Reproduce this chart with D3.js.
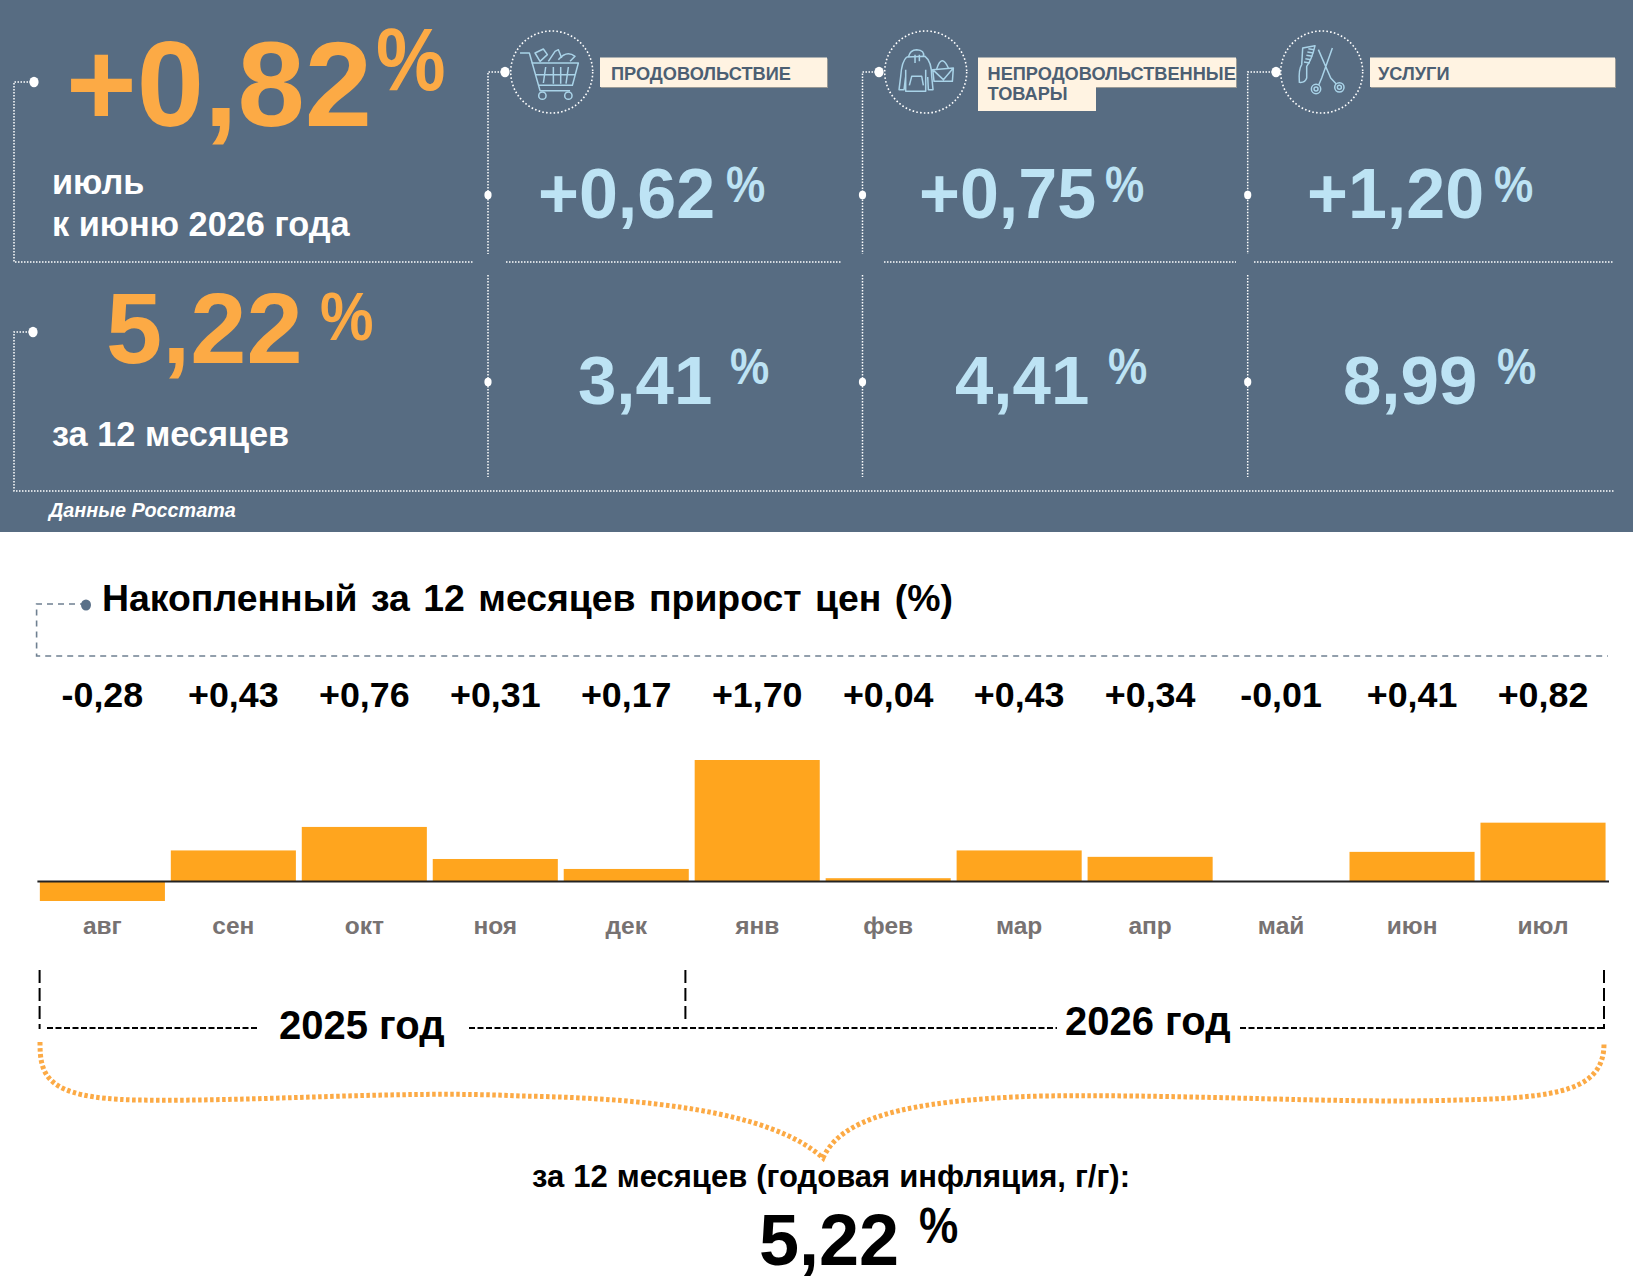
<!DOCTYPE html>
<html lang="ru">
<head>
<meta charset="UTF-8">
<title>Инфляция, июль 2026</title>
<script src="https://cdn.jsdelivr.net/npm/d3@7"></script>
<style>
	html, body { margin: 0; padding: 0; background: #fff; }
	svg { display: block; }
	text { font-family: "Liberation Sans", Arial, sans-serif; font-weight: bold; }
</style>
</head>
<body>
<div id="chart"></div>
<script>
	// monthly price growth, %
	const months = ["авг", "сен", "окт", "ноя", "дек", "янв", "фев", "мар", "апр", "май", "июн", "июл"];
	const monthly = [-0.28, 0.43, 0.76, 0.31, 0.17, 1.70, 0.04, 0.43, 0.34, -0.01, 0.41, 0.82];

	// panel figures
	const categories = ["ПРОДОВОЛЬСТВИЕ", "НЕПРОДОВОЛЬСТВЕННЫЕ", "УСЛУГИ"];
	const monthOnMonth = ["+0,62", "+0,75", "+1,20"];
	const yearOnYear = ["3,41", "4,41", "8,99"];
	const headlineMonth = "+0,82";
	const headlineYear = "5,22";

	const w = 1633, h = 1285;
	const orange = "#fcaa45", blue = "#bde3f4", panel = "#576c82", labelInk = "#4c5f73";

	const svg = d3.select("#chart").append("svg").attr("width", w).attr("height", h);
	svg.append("rect").attr("width", w).attr("height", h).attr("fill", "#fff");
	svg.append("rect").attr("width", w).attr("height", 532).attr("fill", panel);

	const fmt = d3.formatLocale({decimal: ",", thousands: " ", grouping: [3], currency: ["", ""], minus: "-"}).format("+.2f");

	function label(x, y, txt, size, fill, extra) {
		const t = svg.append("text").attr("x", x).attr("y", y).attr("font-size", size).attr("fill", fill).text(txt);
		if (extra) extra(t);
		return t;
	}
	// the percent signs in the original are taller and narrower than the font's
	function pct(x, y, size, fill) {
		svg.append("text").attr("transform", `translate(${x},${y}) scale(0.88,1)`)
			.attr("font-size", size * 1.14).attr("fill", fill).text("%");
	}
	function dots(d, width) {
		svg.append("path").attr("d", d).attr("fill", "none").attr("stroke", "#fff")
			.attr("stroke-width", width || 1.5).attr("stroke-dasharray", "1.5,1.5");
	}
	function dot(x, y, r, fill) {
		svg.append("ellipse").attr("cx", x).attr("cy", y).attr("rx", r).attr("ry", r + 0.6).attr("fill", fill || "#fff");
	}

	// ---- panel, left column
	dots("M34 82H14V262H473");
	dot(34, 82, 4.6);
	dots("M33 332H14V491H1615");
	dot(33, 332, 4.6);

	label(66, 126, headlineMonth, 121, orange);
	pct(376, 90, 78, orange);
	label(52, 194, "июль", 34.3, "#fff");
	label(52, 236, "к июню 2026 года", 34.3, "#fff");
	label(106, 363, headlineYear, 101, orange);
	pct(320, 340, 60, orange);
	label(52, 446, "за 12 месяцев", 34.3, "#fff");
	label(49, 517, "Данные Росстата", 19.8, "#fff", t => t.attr("font-style", "italic"));

	// ---- panel, three category columns
	const colX = [488, 862.5, 1247.7];
	const hookX = [505, 879, 1276];
	const ringX = [551.7, 925.7, 1321.7];
	const rowLeft = [506, 884, 1254];
	const rowRight = [842, 1236, 1614];
	const momX = [538, 919, 1307];
	const momPct = [726, 1105, 1494];
	const yoyX = [578, 955, 1343];
	const yoyPct = [730, 1108, 1497];

	colX.forEach((x, i) => {
		dots(`M${hookX[i]} 72H${x}V254`);
		dots(`M${x} 275V477`);
		dots(`M${rowLeft[i]} 262H${rowRight[i]}`);
		dot(x, 195, 3.6);
		dot(x, 382, 3.6);
		dot(hookX[i], 72, 4.6);

		svg.append("circle").attr("cx", ringX[i]).attr("cy", 72).attr("r", 41)
			.attr("fill", "none").attr("stroke", "#fff").attr("stroke-width", 1.6)
			.attr("stroke-dasharray", "1.6,2.2");

		label(momX[i], 218, monthOnMonth[i], 70, blue);
		pct(momPct[i], 202, 44, blue);
		label(yoyX[i], 403.5, yearOnYear[i], 69, blue);
		pct(yoyPct[i], 384, 44, blue);
	});

	// category captions
	function plate(x0, x1, y0, y1, shadow) {
		if (shadow) svg.append("rect").attr("x", x0 + 1).attr("y", y0 + 1).attr("width", x1 - x0).attr("height", y1 - y0).attr("fill", "#9a9a96");
		svg.append("rect").attr("x", x0).attr("y", y0).attr("width", x1 - x0).attr("height", y1 - y0).attr("fill", "#fff3e2");
	}
	plate(600, 827, 57.5, 87, true);
	plate(978, 1236, 57.5, 87, true);
	plate(978, 1096, 87, 111, false);
	plate(1370, 1615, 57.5, 87, true);
	label(611, 80, categories[0], 18.2, labelInk);
	label(987.5, 80, categories[1], 18.2, labelInk);
	label(987.5, 100, "ТОВАРЫ", 18.2, labelInk);
	label(1378, 80, categories[2], 18.2, labelInk);

	// icons, drawn in 3x coordinates around the ring centre
	function icon(cx, ox, oy, paths, rings) {
		const g = svg.append("g").attr("transform", `translate(${cx},72) scale(${1 / 3}) translate(${-ox},${-oy})`)
			.attr("fill", "none").attr("stroke", "#a9d3e8").attr("stroke-width", 4.5).attr("stroke-linejoin", "round");
		paths.forEach(p => g.append("path").attr("d", p));
		rings.forEach(r => g.append("circle").attr("cx", r[0]).attr("cy", r[1]).attr("r", r[2]));
	}
	icon(ringX[0], 185, 157, [
		"M90 100H118L150 213H240",
		"M125 130H265L247 197H145",
		"M135 165H255M167 142L160 190M190 142V192M212 142V192M235 142L228 192",
		"M135 100L160 88L172 105L150 125Z",
		"M175 125L195 95L205 90L215 115",
		"M205 120Q230 90 255 110L240 125"
	], [[157, 228, 11], [235, 228, 11]]);
	icon(ringX[1], 197, 157, [
		"M145 112Q150 90 170 90Q195 92 190 110",
		"M140 112L195 110Q215 125 215 170L219 210H205L203 172",
		"M140 112Q125 125 122 170L117 210H132L137 170M137 150V215H197V150",
		"M148 197L155 170H185L190 197",
		"M165 105V130M178 105V125",
		"M218 150L280 145L277 185L222 185ZM218 150L250 180L280 145",
		"M230 148Q245 100 265 145"
	], []);
	icon(ringX[2], 185, 157, [
		"M128 85L165 78Q155 120 140 140L140 175Q135 190 118 188Q115 150 125 135Z",
		"M162 90L145 87M160 100L142 97M157 110L139 107M153 120L136 117M149 130L132 127",
		"M175 90L212 175L228 192M217 85L185 175L176 196"
	], [[168, 208, 14], [238, 203, 14], [168, 208, 6], [238, 203, 6]]);

	// ---- lower block
	svg.append("path").attr("d", "M86 604H36.6V656H1608").attr("fill", "none")
		.attr("stroke", "#6f8091").attr("stroke-width", 1.6).attr("stroke-dasharray", "6,5");
	dot(86, 605, 5, "#5a7088");
	label(102, 611, "Накопленный за 12 месяцев прирост цен (%)", 37.4, "#000", t => t.attr("word-spacing", 3));

	const x = d3.scaleBand().domain(months).range([36.9, 1608.5]).paddingInner(0.045).paddingOuter(0.0225);
	const y = d3.scaleLinear().domain([-0.28, 1.70]).range([901, 760]);

	svg.selectAll(".bar").data(monthly).join("rect").attr("class", "bar")
		.attr("x", (d, i) => x(months[i]))
		.attr("y", d => y(Math.max(d, 0)))
		.attr("width", x.bandwidth())
		.attr("height", d => Math.abs(y(d) - y(0)))
		.attr("fill", "#ffa51e");

	svg.selectAll(".val").data(monthly).join("text").attr("class", "val")
		.attr("x", (d, i) => x(months[i]) + x.bandwidth() / 2)
		.attr("y", 707).attr("text-anchor", "middle")
		.attr("font-size", 35.8).attr("fill", "#000")
		.text(d => fmt(d));

	const axis = svg.append("g").attr("transform", `translate(0,${y(0)})`)
		.call(d3.axisBottom(x).tickSize(0).tickPadding(36));
	axis.select(".domain").attr("stroke", "#222").attr("stroke-width", 2);
	axis.selectAll("text").attr("font-size", 24.5).attr("fill", "#777272")
		.attr("font-family", "Liberation Sans").attr("font-weight", "bold");

	// year brackets
	function dashed(d, dash) {
		svg.append("path").attr("d", d).attr("fill", "none").attr("stroke", "#000")
			.attr("stroke-width", dash === "long" ? 2 : 2.2).attr("stroke-dasharray", dash === "long" ? "13,5" : "6,2.5");
	}
	dashed("M39.6 970V1029", "long");
	dashed("M685.4 970V1023", "long");
	dashed("M1604 970V1029", "long");
	dashed("M47 1028H258");
	dashed("M469 1028H1057");
	dashed("M1240 1028H1604");
	label(279, 1039, "2025 год", 40, "#000");
	label(1065, 1035, "2026 год", 40, "#000");

	// curly brace
	svg.append("path")
		.attr("d", "M40 1042C40 1075 45 1098 135 1100C260 1102 400 1090 521 1096C640 1098 770 1110 823 1158C840 1120 900 1100 1042 1096C1200 1094 1340 1104 1458 1100C1560 1098 1605 1090 1604 1042")
		.attr("fill", "none").attr("stroke", orange).attr("stroke-width", 5).attr("stroke-dasharray", "3.5,2.5");

	label(532, 1187, "за 12 месяцев (годовая инфляция, г/г):", 31, "#000", t => t.attr("word-spacing", 0.4));
	label(759, 1265, headlineYear, 72, "#000");
	pct(919, 1243, 44, "#000");
</script>
</body>
</html>
